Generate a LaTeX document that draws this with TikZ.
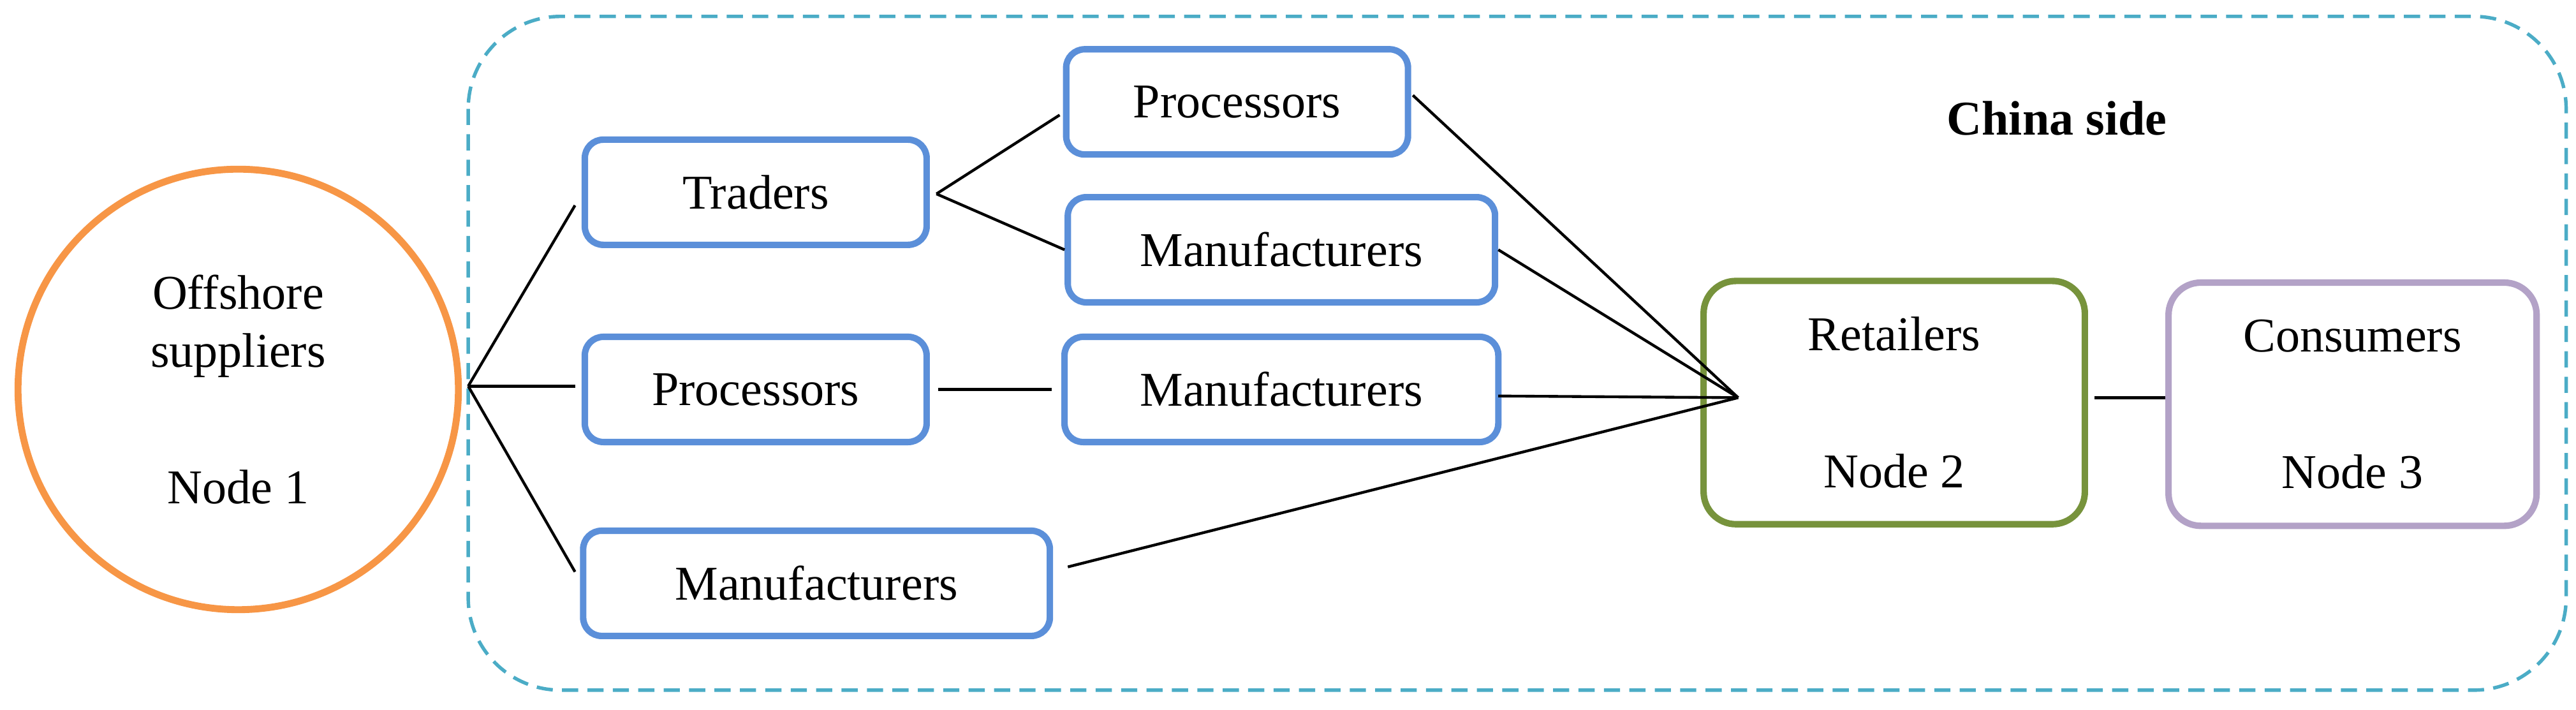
\documentclass[tikz,border=0pt]{standalone}
\usepackage{fontspec}
\setmainfont{Liberation Serif}
\usetikzlibrary{positioning}
\definecolor{myorange}{HTML}{F79646}
\definecolor{myblue}{HTML}{5B8FD9}
\definecolor{mygreen}{HTML}{77933C}
\definecolor{mypurple}{HTML}{B3A2C7}
\definecolor{mycyan}{HTML}{4BACC6}
\tikzset{
  box/.style={draw=myblue,line width=2.8pt,rounded corners=8pt,minimum height=1.6cm,font=\fontsize{21}{25}\selectfont},
  node big/.style={line width=2.8pt,rounded corners=14pt,minimum width=5.8cm,minimum height=3.7cm,align=center,font=\fontsize{21}{25}\selectfont},
  connect/.style={line width=1.2pt,black}
}
\begin{document}
\begin{tikzpicture}[x=0.025cm,y=-0.025cm]
\useasboundingbox (0,0) rectangle (1568,432);
% china side frame
\draw[mycyan,line width=1.5pt,dash pattern=on 7pt off 4pt,rounded corners=40pt] (285,10) rectangle (1562,420);
\node[font=\fontsize{21}{25}\selectfont\bfseries] (side) at (1252,72) {China side};
% nodes
\node[circle,draw=myorange,line width=3pt,minimum size=6.7cm,align=center,font=\fontsize{21}{25}\selectfont] (sup) at (145,237) {Offshore\\suppliers\\[1.2cm]Node 1};
\node[box,minimum width=5.2cm] (trad) at (460,117) {Traders};
\node[box,minimum width=5.2cm] (proc1) at (753,62) {Processors};
\node[box,minimum width=6.5cm] (man1) at (780,152) {Manufacturers};
\node[box,minimum width=5.2cm] (proc2) at (460,237) {Processors};
\node[box,minimum width=6.6cm] (man2) at (780,237) {Manufacturers};
\node[box,minimum width=7.1cm] (man3) at (497,355) {Manufacturers};
\node[node big,draw=mygreen] (ret) at (1153,245) {Retailers\\[1.2cm]Node 2};
\node[node big,draw=mypurple,minimum width=5.6cm] (con) at (1432,246) {Consumers\\[1.2cm]Node 3};
% connectors
\coordinate (s) at (285,235);
\coordinate (r) at (1058,242);
\draw[connect] (s) -- (350,125);
\draw[connect] (s) -- (350,235);
\draw[connect] (s) -- (350,348);
\draw[connect] (570,118) -- (645,70);
\draw[connect] (570,118) -- (648,152);
\draw[connect] (proc2.east) ++(5,0) -- (640,237);
\draw[connect] (860,58) -- (r);
\draw[connect] (912,152) -- (r);
\draw[connect] (912,241) -- (r);
\draw[connect] (650,345) -- (r);
\draw[connect] (1275,242) -- (1318,242);
\end{tikzpicture}
\end{document}
